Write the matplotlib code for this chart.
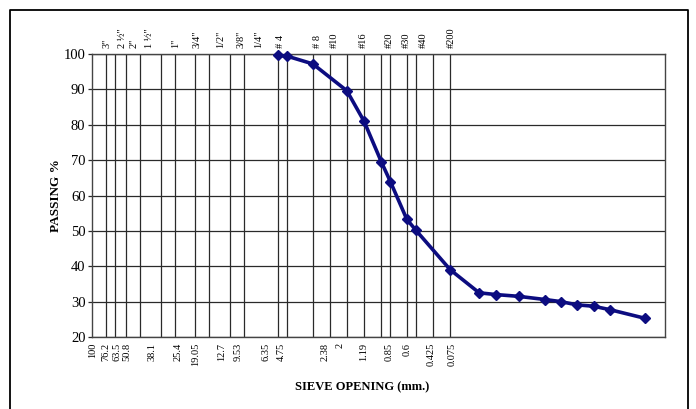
import matplotlib.pyplot as plt
from matplotlib.lines import Line2D

plt.rcParams['font.family'] = ['Liberation Serif', 'DejaVu Serif']

# sieve sizes (mm) drawn as vertical lines
sieve_lines = [76.2, 63.5, 50.8, 38.1, 25.4, 19.05, 12.7, 9.53, 6.35, 4.75,
               2.38, 2.0, 1.19, 0.85, 0.6, 0.425, 0.3, 0.25, 0.18, 0.15,
               0.106, 0.075]

# grain size curve
size_mm = [2.38, 2.0, 1.19, 0.6, 0.425, 0.3, 0.25, 0.18, 0.15, 0.075,
           0.042, 0.030, 0.019, 0.0112, 0.0081, 0.0059, 0.0042, 0.0030, 0.0015]
passing = [99.6, 99.4, 97.2, 89.6, 81.0, 69.5, 63.9, 53.3, 50.2, 39.0,
           32.5, 32.0, 31.5, 30.6, 30.0, 29.1, 28.7, 27.7, 25.3]

# axis labels and where they sit on the log scale (mm)
bottom_labels = ['100', '76.2', '63.5', '50.8', '38.1', '25.4', '19.05', '12.7',
                 '9.53', '6.35', '4.75', '2.38', '2', '1.19', '0.85', '0.6',
                 '0.425', '0.075']
bottom_label_at = [100, 76.2, 61.1, 50.0, 30.3, 18.0, 12.5, 7.43, 5.34, 3.03,
                   2.23, 0.93, 0.69, 0.427, 0.256, 0.178, 0.110, 0.0723]
top_labels = ['3"', '2 ½"', '2"', '1 ½"', '1"', '3/4"', '1/2"', '3/8"', '1/4"',
              '# 4', '# 8', '#10', '#16', '#20', '#30', '#40', '#200']
top_label_at = [75.0, 54.9, 43.2, 31.5, 18.8, 12.3, 7.58, 5.01, 3.54, 2.28,
                1.08, 0.77, 0.431, 0.256, 0.183, 0.129, 0.0741]
y_ticks = [20, 30, 40, 50, 60, 70, 80, 90, 100]

fig = plt.figure(figsize=(6.96, 4.09), dpi=100)
ax = fig.add_axes([0.1328, 0.176, 0.8227, 0.692])

grid_col = '#2a2a2a'
ax.set_xscale('log')
ax.set_xlim(100, 0.001)
ax.set_ylim(20, 100)
ax.vlines(sieve_lines, 20, 100, color=grid_col, lw=0.9, zorder=1)
ax.set_yticks(y_ticks)
ax.yaxis.grid(True, color=grid_col, lw=0.9)
ax.set_axisbelow(True)
for s in ax.spines.values():
    s.set_color('#444444')
    s.set_linewidth(1.0)

ax.plot(size_mm, passing, color='#0c0c80', lw=2.6, marker='D', ms=5.5,
        zorder=3, clip_on=False)

ax.minorticks_off()
ax.set_xticks(bottom_label_at, bottom_labels, rotation=90, fontsize=7.5)
ax.tick_params(axis='x', length=0, pad=4)
ax.tick_params(axis='y', labelsize=10.5, length=3, width=0.9, pad=2,
               color=grid_col)

top = ax.twiny()
top.set_xscale('log')
top.set_xlim(ax.get_xlim())
top.minorticks_off()
top.set_xticks(top_label_at, top_labels, rotation=90, fontsize=7.5)
top.tick_params(axis='x', length=0, pad=4)
for s in top.spines.values():
    s.set_visible(False)

ax.set_ylabel('PASSING %', fontsize=9.5, fontweight='bold', labelpad=1)
fig.text(0.52, 0.052, 'SIEVE OPENING (mm.)', fontsize=9, fontweight='bold',
         ha='center', va='center')

# outer frame of the picture
fx0, fx1, fy1 = 10 / 696, 688 / 696, 1 - 10 / 409
fig.add_artist(Line2D([fx0, fx0, fx1, fx1], [0, fy1, fy1, 0],
                      color='black', lw=1.3))

fig.savefig('out.png', dpi=100)
